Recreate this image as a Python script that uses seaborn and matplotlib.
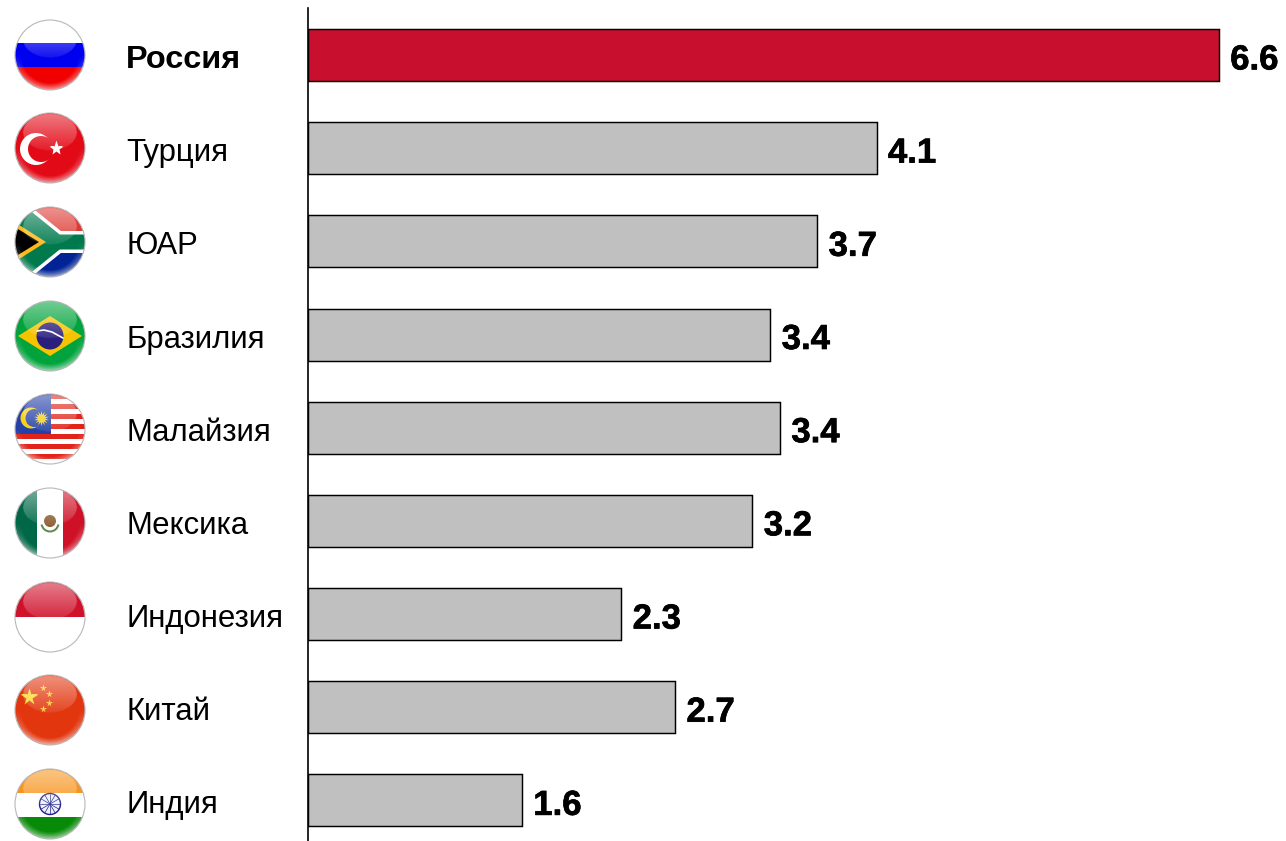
import numpy as np
import pandas as pd
import matplotlib
matplotlib.use("Agg")
import matplotlib.pyplot as plt
import matplotlib.patheffects as pe
from matplotlib.patches import Circle, Polygon, Rectangle, Wedge
from matplotlib.transforms import ScaledTranslation
import seaborn as sns

countries = ["Россия", "Турция", "ЮАР", "Бразилия", "Малайзия",
             "Мексика", "Индонезия", "Китай", "Индия"]
values = [6.60, 4.12, 3.69, 3.35, 3.42, 3.22, 2.27, 2.66, 1.55]
flag_codes = ["ru", "tr", "za", "br", "my", "mx", "id", "cn", "in"]
flag_y = [55, 148, 242, 336, 429, 523, 617, 710, 804]
highlight = "Россия"
RED, GREY = "#C8102E", "#C0C0C0"

W, H = 1286, 841
sns.set_theme(style="white")
plt.rcParams["font.family"] = ["Liberation Sans", "DejaVu Sans"]

fig = plt.figure(figsize=(W / 100, H / 100), dpi=100, facecolor="white")
ax = fig.add_axes([308 / W, 0, (W - 308) / W, (H - 8) / H])

df = pd.DataFrame({"country": countries, "value": values})
palette = {c: (RED if c == highlight else GREY) for c in countries}
sns.barplot(data=df, x="value", y="country", hue="country", palette=palette,
            saturation=1, width=0.558, edgecolor="black", linewidth=1.05,
            legend=False, ax=ax)

ax.set_xlim(0, (W - 308) / 138.0)
ax.set_ylim(8.435, -0.505)
ax.set_xlabel("")
ax.set_ylabel("")
ax.set_xticks([])
for side in ("top", "right", "bottom"):
    ax.spines[side].set_visible(False)
ax.spines["left"].set_linewidth(1.2)
ax.spines["left"].set_color("black")

# Country names sit left-aligned in a column at x = 127 px
ax.tick_params(axis="y", length=0, pad=(308 - 126) * 0.72, labelsize=22.4, colors="black")
nudge = ScaledTranslation(0, -1.5 / 100, fig.dpi_scale_trans)
for lab in ax.get_yticklabels():
    lab.set_ha("left")
    lab.set_va("center_baseline")
    lab.set_transform(lab.get_transform() + nudge)
    if lab.get_text() == highlight:
        lab.set_fontweight("bold")
        lab.set_fontsize(23.4)

for cont in ax.containers:
    for t in ax.bar_label(cont, fmt="%.1f", padding=8, fontsize=25, fontweight="bold", color="black"):
        t.set_va("center_baseline")
        t.xyann = (8.2, -1.0)
        t.set_path_effects([pe.withStroke(linewidth=0.5, foreground="black")])

# Full-figure layer in pixel units for the round flag badges
fl = fig.add_axes([0, 0, 1, 1], facecolor="none")
fl.set_xlim(0, W)
fl.set_ylim(H, 0)
fl.set_autoscale_on(False)
fl.axis("off")

CX, R = 50, 35
layer = [10]


def stack(clip, *artists):
    """Add artists to the flag layer, in order, clipped to the badge."""
    for a in artists:
        if a.axes is None:
            fl.add_artist(a)
        a.set_clip_path(clip)
        layer[0] += 1
        a.set_zorder(layer[0])


def gloss(cy):
    n = 140
    xs = np.linspace(-R, R, n)
    X, Y = np.meshgrid(xs, xs)
    d = np.hypot(X, Y) / R
    rgba = np.ones((n, n, 4))
    ell = ((X / 27.0) ** 2 + ((Y + 16) / 18.5) ** 2) <= 1
    alpha = np.zeros_like(X)
    alpha[ell] = np.clip(0.45 - 0.36 * (Y[ell] + 34) / 36, 0.06, 0.5)
    rim = np.clip((d - 0.8) / 0.2, 0, 1) * np.clip(Y / R, 0, 1)
    alpha = np.maximum(alpha, 0.6 * rim)
    rgba[..., 3] = alpha
    im = fl.imshow(rgba, extent=(CX - R, CX + R, cy + R, cy - R), aspect="auto",
                   interpolation="bilinear")
    im.set_clip_path(Circle((CX, cy), R, transform=fl.transData))
    layer[0] += 1
    im.set_zorder(layer[0])
    ring = Circle((CX, cy), R, fill=False, ec="#b8b8b8", lw=0.8)
    fl.add_patch(ring)
    layer[0] += 1
    ring.set_zorder(layer[0])


def rect(x0, y0, x1, y1, c):
    return Rectangle((x0, y0), x1 - x0, y1 - y0, fc=c, ec="none")


def draw_flag(code, cy):
    clip = Circle((CX, cy), R, transform=fl.transData)
    L, T, Rr, B = CX - R, cy - R, CX + R, cy + R

    def star(x, y, size, color, marker="*"):
        m, = fl.plot([x], [y], marker=marker, ms=size, mfc=color, mec="none")
        stack(clip, m)

    if code == "ru":
        stack(clip, rect(L, T, Rr, cy - 12, "white"), rect(L, cy - 12, Rr, cy + 12, "#0000F0"),
              rect(L, cy + 12, Rr, B, "#F00000"))
    elif code == "tr":
        stack(clip, rect(L, T, Rr, B, "#E30A17"),
              Circle((36, cy + 1), 16, fc="white", ec="none"),
              Circle((41, cy + 1), 13, fc="#E30A17", ec="none"))
        star(56, cy, 11, "white")
    elif code == "za":
        stack(clip, rect(L, T, Rr, cy, "#DE3831"), rect(L, cy, Rr, B, "#002395"))
        for col, w in (("white", 22), ("#007A4D", 15)):
            for pts in ([(5, cy - 42), (57, cy), (95, cy)], [(5, cy + 42), (57, cy)]):
                ln, = fl.plot(*zip(*pts), color=col, lw=w * 0.72, solid_capstyle="butt",
                              solid_joinstyle="miter")
                stack(clip, ln)
        stack(clip,
              Polygon([(5, cy - 38), (52, cy), (5, cy + 38)], fc="#007A4D", ec="none"),
              Polygon([(5, cy - 26), (46, cy), (5, cy + 26)], fc="#FFB81C", ec="none"),
              Polygon([(5, cy - 21), (39, cy), (5, cy + 21)], fc="black", ec="none"))
    elif code == "br":
        stack(clip, rect(L, T, Rr, B, "#00A33C"),
              Polygon([(18, cy), (50, cy - 20), (82, cy), (50, cy + 20)], fc="#F5C400", ec="none"),
              Circle((50, cy), 13.5, fc="#2B1F7E", ec="none"))
        band, = fl.plot([37, 44, 52, 63], [cy - 5, cy - 6, cy - 4, cy + 2], color="white", lw=1.2)
        stack(clip, band)
    elif code == "my":
        stack(clip, rect(L, T, Rr, B, "white"))
        for i in range(0, 14, 2):
            stack(clip, rect(L, cy - R + i * 5, Rr, cy - R + (i + 1) * 5, "#E2231A"))
        stack(clip, rect(L, T, 51, cy + 5, "#2440A8"),
              Circle((31, cy - 11), 10.5, fc="#F7D117", ec="none"),
              Circle((34.5, cy - 11), 9, fc="#2440A8", ec="none"))
        star(41, cy - 11, 11, "#F7D117", (14, 1, 0))
    elif code == "mx":
        stack(clip, rect(L, T, 37, B, "#006847"), rect(37, T, 63, B, "white"),
              rect(63, T, Rr, B, "#CE1126"),
              Wedge((50, cy), 9.5, 10, 170, width=2, fc="#5B8C4A", ec="none"),
              Circle((50, cy - 2), 6, fc="#8A5A2B", ec="none"))
    elif code == "id":
        stack(clip, rect(L, T, Rr, cy, "#D0112B"), rect(L, cy, Rr, B, "white"))
    elif code == "cn":
        stack(clip, rect(L, T, Rr, B, "#E2360F"))
        for x, y, s in ((29, -13, 13), (43, -22, 5.5), (49, -16, 5.5), (49, -7, 5.5), (43, -1, 5.5)):
            star(x, cy + y, s, "#FFD92B")
    elif code == "in":
        stack(clip, rect(L, T, Rr, cy - 11, "#F7941D"), rect(L, cy - 11, Rr, cy + 13, "white"),
              rect(L, cy + 13, Rr, B, "#078A07"),
              Circle((50, cy), 10.5, fc="#EEF0FA", ec="#1C1C8C", lw=1.0))
        for ang in np.arange(0, np.pi, np.pi / 6):
            ln, = fl.plot([50 - 10 * np.cos(ang), 50 + 10 * np.cos(ang)],
                          [cy - 10 * np.sin(ang), cy + 10 * np.sin(ang)],
                          color="#1C1C8C", lw=0.5)
            stack(clip, ln)
    gloss(cy)


for code, cy in zip(flag_codes, flag_y):
    draw_flag(code, cy)

fig.savefig("out.png", dpi=100, facecolor="white")
